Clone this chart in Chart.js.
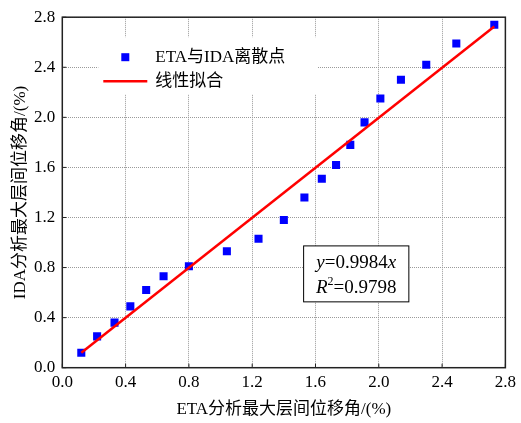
<!DOCTYPE html>
<html>
<head>
<meta charset="utf-8">
<script src="https://cdn.jsdelivr.net/npm/chart.js@4"></script>
<style>
html, body { margin: 0; padding: 0; background: #fff; }
</style>
</head>
<body>
<canvas id="c" width="521" height="423"></canvas>
<script>
// ETA vs IDA drift values
var etaX = [0.12, 0.22, 0.33, 0.43, 0.53, 0.64, 0.80, 1.04, 1.24, 1.40, 1.53, 1.64, 1.73, 1.82, 1.91, 2.01, 2.14, 2.30, 2.49, 2.73];
var idaY = [0.12, 0.25, 0.36, 0.49, 0.62, 0.73, 0.81, 0.93, 1.03, 1.18, 1.36, 1.51, 1.62, 1.78, 1.96, 2.15, 2.30, 2.42, 2.59, 2.74];
// fitted line ends
var fitX = [0.12, 2.73];
var fitY = [0.12, 2.726];
var tickValues = [0, 0.4, 0.8, 1.2, 1.6, 2.0, 2.4, 2.8];
var legendLabels = ['ETA与IDA离散点', '线性拟合'];
var slope = '0.9984';
var rSquared = '0.9798';

var serif = "'Liberation Serif', 'Times New Roman', 'Noto Sans CJK SC', serif";

var scatterPts = etaX.map(function (x, i) { return { x: x, y: idaY[i] }; });
var fitPts = fitX.map(function (x, i) { return { x: x, y: fitY[i] }; });

// frame, inward ticks, legend box and the equation box
var extras = {
    id: 'extras',
    afterDatasetsDraw: function (chart) {
        var ctx = chart.ctx;
        var a = chart.chartArea;
        var sx = chart.scales.x, sy = chart.scales.y;
        ctx.save();

        // inward ticks
        ctx.strokeStyle = '#222';
        ctx.lineWidth = 1;
        tickValues.forEach(function (v) {
            var px = sx.getPixelForValue(v);
            ctx.beginPath(); ctx.moveTo(px, a.bottom); ctx.lineTo(px, a.bottom - 4); ctx.stroke();
            var py = sy.getPixelForValue(v);
            ctx.beginPath(); ctx.moveTo(a.left, py); ctx.lineTo(a.left + 4, py); ctx.stroke();
        });

        // frame
        ctx.strokeStyle = '#222';
        ctx.lineWidth = 1.5;
        ctx.strokeRect(a.left, a.top, a.right - a.left, a.bottom - a.top);

        // legend
        var lx = a.left + 36, ly = a.top + 20;
        ctx.fillStyle = '#fff';
        ctx.fillRect(lx, ly, 219, 57);
        ctx.fillStyle = '#0000ff';
        ctx.fillRect(a.left + 59, a.top + 36, 8, 8);
        ctx.strokeStyle = '#ff0000';
        ctx.lineWidth = 2.5;
        ctx.beginPath(); ctx.moveTo(a.left + 41, a.top + 64); ctx.lineTo(a.left + 85, a.top + 64); ctx.stroke();
        ctx.fillStyle = '#000';
        ctx.font = '17px ' + serif;
        ctx.textBaseline = 'middle';
        ctx.textAlign = 'left';
        ctx.fillText(legendLabels[0], a.left + 93, a.top + 40);
        ctx.fillText(legendLabels[1], a.left + 93, a.top + 64);

        // equation box
        var x1 = sx.getPixelForValue(1.525), x2 = sx.getPixelForValue(2.19);
        var y1 = sy.getPixelForValue(0.973), y2 = sy.getPixelForValue(0.526);
        ctx.fillStyle = '#fff';
        ctx.fillRect(x1, y1, x2 - x1, y2 - y1);
        ctx.strokeStyle = '#000';
        ctx.lineWidth = 1;
        ctx.strokeRect(x1, y1, x2 - x1, y2 - y1);

        function drawRuns(runs, cx, cy) {
            var total = 0;
            runs.forEach(function (r) { ctx.font = r.font; r.w = ctx.measureText(r.t).width; total += r.w; });
            var x = cx - total / 2;
            runs.forEach(function (r) {
                ctx.font = r.font;
                ctx.fillText(r.t, x, cy + (r.dy || 0));
                x += r.w;
            });
        }
        var cx = (x1 + x2) / 2;
        ctx.fillStyle = '#000';
        ctx.textBaseline = 'middle';
        var norm = '19px ' + serif, ital = 'italic 19px ' + serif;
        drawRuns([{ t: 'y', font: ital }, { t: '=' + slope, font: norm }, { t: 'x', font: ital }], cx, y1 + (y2 - y1) * 0.31);
        drawRuns([{ t: 'R', font: ital }, { t: '2', font: '12px ' + serif, dy: -6 }, { t: '=' + rSquared, font: norm }], cx, y1 + (y2 - y1) * 0.75);

        ctx.restore();
    }
};

var tickFont = { family: serif, size: 17 };

new Chart(document.getElementById('c'), {
    type: 'scatter',
    data: {
        datasets: [
            {
                type: 'line',
                label: legendLabels[1],
                data: fitPts,
                borderColor: '#ff0000',
                borderWidth: 2.5,
                pointRadius: 0,
                fill: false,
                order: 0
            },
            {
                label: legendLabels[0],
                data: scatterPts,
                pointStyle: 'rect',
                pointRadius: 5.7,
                backgroundColor: '#0000ff',
                borderWidth: 0,
                order: 1
            }
        ]
    },
    options: {
        responsive: false,
        animation: false,
        layout: { padding: { top: 12.7, right: 14.3, left: 0, bottom: 0 } },
        plugins: { legend: { display: false }, tooltip: { enabled: false } },
        scales: {
            x: {
                type: 'linear',
                min: 0, max: 2.8,
                afterBuildTicks: function (s) { s.ticks = tickValues.map(function (v) { return { value: v }; }); },
                afterFit: function (s) { s.height = 55.3; },
                ticks: { font: tickFont, color: '#000', padding: 5, maxRotation: 0, callback: function (v) { return v.toFixed(1); } },
                grid: { color: '#9a9a9a', lineWidth: 1, drawTicks: false },
                border: { display: false, dash: [1, 1] },
                title: { display: true, text: 'ETA分析最大层间位移角/(%)', color: '#000', font: tickFont, padding: { top: 0, bottom: 3 } }
            },
            y: {
                type: 'linear',
                min: 0, max: 2.8,
                afterBuildTicks: function (s) { s.ticks = tickValues.map(function (v) { return { value: v }; }); },
                afterFit: function (s) { s.width = 62.3; },
                ticks: { font: tickFont, color: '#000', padding: 7, callback: function (v) { return v.toFixed(1); } },
                grid: { color: '#9a9a9a', lineWidth: 1, drawTicks: false },
                border: { display: false, dash: [1, 1] },
                title: { display: true, text: 'IDA分析最大层间位移角/(%)', color: '#000', font: tickFont, padding: { top: 10, bottom: 0 } }
            }
        }
    },
    plugins: [extras]
});
</script>
</body>
</html>
